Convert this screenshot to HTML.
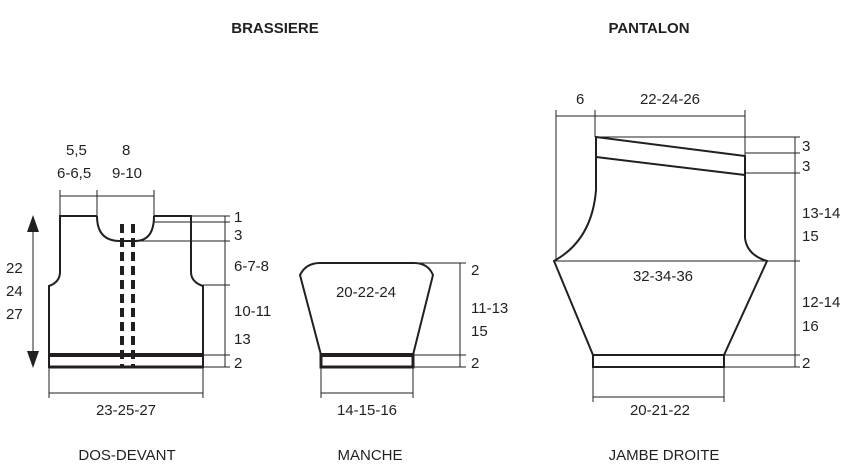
<!DOCTYPE html>
<html><head><style>html,body{margin:0;padding:0;background:#fff}</style></head><body>
<svg width="856" height="471" viewBox="0 0 856 471" xmlns="http://www.w3.org/2000/svg" font-family="Liberation Sans, sans-serif" font-size="15" fill="#231f20">
<g text-anchor="middle">
<text x="275" y="33" font-weight="bold" font-size="15">BRASSIERE</text>
<text x="649" y="33" font-weight="bold" font-size="15">PANTALON</text>
<text x="127" y="460">DOS-DEVANT</text>
<text x="370" y="460">MANCHE</text>
<text x="664" y="460">JAMBE DROITE</text>
</g>
<g fill="none" stroke="#231f20" stroke-width="1">
<!-- brassiere dims -->
<line x1="60" y1="196" x2="154" y2="196"/>
<line x1="60" y1="190" x2="60" y2="216"/><line x1="97" y1="190" x2="97" y2="216"/><line x1="154" y1="190" x2="154" y2="216"/>
<line x1="225" y1="216" x2="225" y2="367"/>
<line x1="191" y1="216" x2="230" y2="216"/><line x1="154" y1="222" x2="230" y2="222"/><line x1="133" y1="241" x2="230" y2="241"/>
<line x1="203" y1="285" x2="230" y2="285"/><line x1="203" y1="355" x2="230" y2="355"/><line x1="203" y1="367" x2="230" y2="367"/>
<line x1="33" y1="225" x2="33" y2="358"/>
<line x1="49" y1="393" x2="203" y2="393"/><line x1="49" y1="367" x2="49" y2="398"/><line x1="203" y1="367" x2="203" y2="398"/>
<!-- manche dims -->
<line x1="460" y1="263" x2="460" y2="367"/>
<line x1="418" y1="263" x2="466" y2="263"/><line x1="413" y1="355" x2="466" y2="355"/><line x1="413" y1="367" x2="466" y2="367"/>
<line x1="321" y1="393" x2="413" y2="393"/><line x1="321" y1="367" x2="321" y2="398"/><line x1="413" y1="367" x2="413" y2="398"/>
<!-- pantalon dims -->
<line x1="556" y1="116" x2="745" y2="116"/>
<line x1="556" y1="110" x2="556" y2="261"/><line x1="595" y1="110" x2="595" y2="137"/><line x1="745" y1="110" x2="745" y2="156"/>
<line x1="795" y1="137" x2="795" y2="367"/>
<line x1="596" y1="137" x2="800" y2="137"/><line x1="745" y1="153" x2="800" y2="153"/><line x1="745" y1="173" x2="800" y2="173"/>
<line x1="554" y1="261" x2="800" y2="261"/><line x1="724" y1="355" x2="800" y2="355"/><line x1="724" y1="367" x2="800" y2="367"/>
<line x1="593" y1="397" x2="724" y2="397"/><line x1="593" y1="367" x2="593" y2="402"/><line x1="724" y1="367" x2="724" y2="402"/>
</g>
<polygon points="33,215 27,232 39,232" fill="#231f20"/>
<polygon points="33,368 27,351 39,351" fill="#231f20"/>
<g fill="none" stroke="#231f20" stroke-width="2">
<!-- brassiere body -->
<path d="M97,216 L60,216 L60,272 Q60,282 49,286 L49,367 L203,367 L203,286 Q191,282 191,272 L191,216 L154,216"/>
<path d="M97,216 Q97,241 120,241 L135,241 Q154,241 154,216"/>
</g>
<g stroke="#231f20">
<line x1="49" y1="355" x2="203" y2="355" stroke-width="4"/>
<line x1="49" y1="367" x2="203" y2="367" stroke-width="3"/>
<line x1="122" y1="224" x2="122" y2="367" stroke-width="4" stroke-dasharray="9,5"/>
<line x1="133" y1="224" x2="133" y2="367" stroke-width="4" stroke-dasharray="9,5"/>
</g>
<!-- manche -->
<g fill="none" stroke="#231f20" stroke-width="2">
<path d="M300,275 Q306,263 320,263 L414,263 Q428,263 433,275 L413,355 L321,355 Z"/>
</g>
<line x1="321" y1="355" x2="413" y2="355" stroke="#231f20" stroke-width="4"/>
<rect x="321" y="355" width="92" height="12" fill="none" stroke="#231f20" stroke-width="3"/>
<!-- pantalon -->
<g fill="none" stroke="#231f20" stroke-width="2">
<path d="M596,137 L745,156 L745,238 Q747,255 767,261 L724,355 L593,355 L554,261 Q592,240 596,190 Z"/>
<line x1="596" y1="157" x2="745" y2="175"/>
<rect x="593" y="355" width="131" height="12"/>
</g>
<g font-size="15">
<text x="66" y="155">5,5</text><text x="57" y="178">6-6,5</text>
<text x="122" y="155">8</text><text x="112" y="178">9-10</text>
<text x="234" y="222">1</text><text x="234" y="240">3</text>
<text x="234" y="271">6-7-8</text><text x="234" y="316">10-11</text><text x="234" y="344">13</text><text x="234" y="368">2</text>
<text x="6" y="273">22</text><text x="6" y="296">24</text><text x="6" y="319">27</text>
<text x="126" y="415" text-anchor="middle">23-25-27</text>
<text x="366" y="297" text-anchor="middle">20-22-24</text>
<text x="471" y="275">2</text><text x="471" y="313">11-13</text><text x="471" y="336">15</text><text x="471" y="368">2</text>
<text x="367" y="415" text-anchor="middle">14-15-16</text>
<text x="576" y="104">6</text><text x="670" y="104" text-anchor="middle">22-24-26</text>
<text x="802" y="151">3</text><text x="802" y="171">3</text>
<text x="802" y="218">13-14</text><text x="802" y="241">15</text>
<text x="802" y="307">12-14</text><text x="802" y="331">16</text><text x="802" y="368">2</text>
<text x="663" y="281" text-anchor="middle">32-34-36</text>
<text x="660" y="415" text-anchor="middle">20-21-22</text>
</g>
</svg>
</body></html>
